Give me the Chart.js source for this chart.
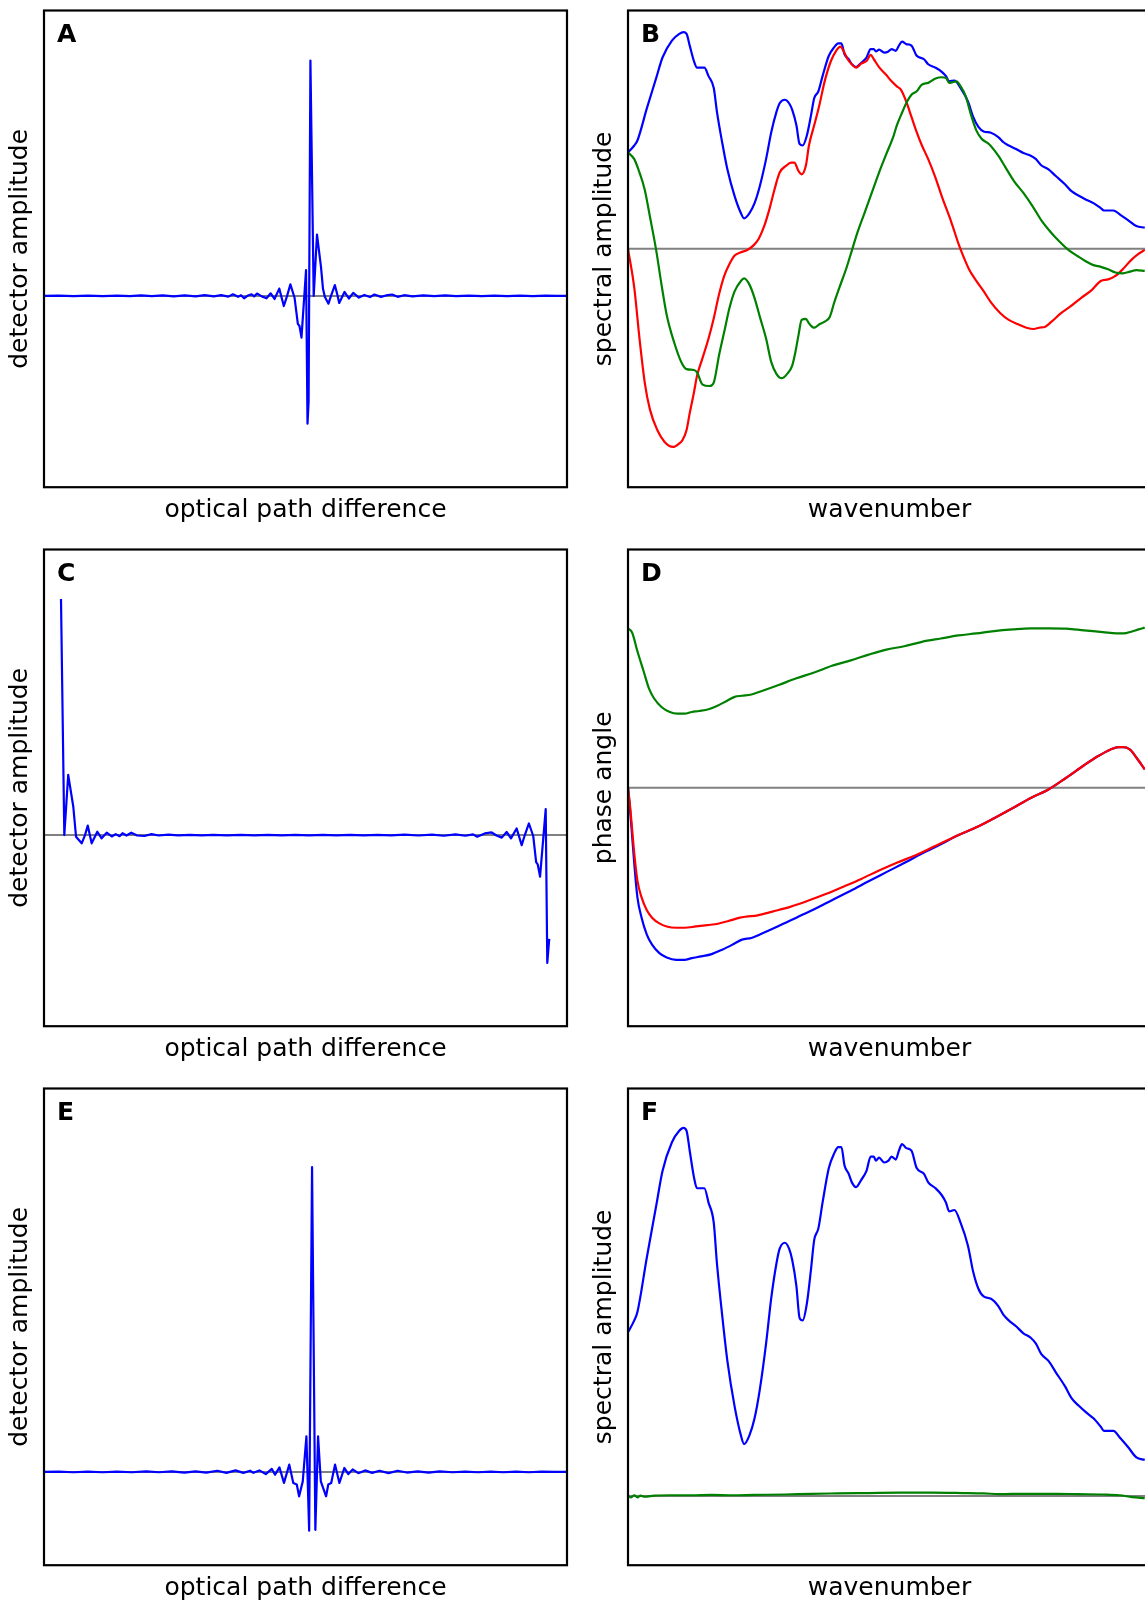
<!DOCTYPE html>
<html>
<head>
<meta charset="utf-8">
<script src="https://cdn.jsdelivr.net/npm/chart.js@4.4.0/dist/chart.umd.min.js"></script>
<style>
html,body{margin:0;padding:0;background:#fff;overflow:hidden;width:1145px;height:1600px}
#wrap{position:relative;width:1168px;height:1600px;overflow:hidden}
canvas{position:absolute}
</style>
</head>
<body>
<div id="wrap">
<canvas id="cA" width="584" height="539" style="left:0px;top:0px;width:584px;height:539px"></canvas>
<canvas id="cB" width="584" height="539" style="left:584px;top:0px;width:584px;height:539px"></canvas>
<canvas id="cC" width="584" height="539" style="left:0px;top:539px;width:584px;height:539px"></canvas>
<canvas id="cD" width="584" height="539" style="left:584px;top:539px;width:584px;height:539px"></canvas>
<canvas id="cE" width="584" height="539" style="left:0px;top:1078px;width:584px;height:539px"></canvas>
<canvas id="cF" width="584" height="539" style="left:584px;top:1078px;width:584px;height:539px"></canvas>
</div>
<script>
// ---------- Panel A: recorded interferogram (OPD in samples from ZPD) ----------
const opdA = [-146,-138,-130,-122,-114,-106,-99,-93,-87,-81,-75,-69,-63,-58,-53,-49,-45,-42.5,-39.7,-38.1,-36.4,-34.2,-32.3,-30.9,-29.3,-26.7,-24.1,-21.8,-19.7,-17.1,-14.6,-12.8,-11,-8.7,-6.9,-6,-4.9,-2.4,-1.6,-1,0,1.8,3.6,5.8,6.9,7.9,9.9,11.3,13.4,14.6,15.8,18.7,21.1,23.5,26.6,29.6,32.7,35.1,38.7,41.5,44.8,47.9,51.4,56,62,68,74,80,87,94,101,108,115,122,129,135,141];
const ampA = [0,0.001,-0.001,0.001,-0.001,0.001,-0.001,0.002,-0.001,0.002,-0.002,0.002,-0.002,0.003,-0.002,0.003,-0.003,0.007,-0.004,0.003,-0.010,0.002,0.007,-0.002,0.010,-0.002,-0.010,0.011,-0.013,0.031,-0.043,0.000,0.049,-0.008,-0.119,-0.128,-0.177,0.110,-0.543,-0.450,1.000,0.000,0.261,0.123,0.030,-0.004,-0.033,0.000,0.046,0.010,-0.030,0.017,-0.011,0.013,-0.007,0.004,-0.005,0.006,-0.004,0.002,0.006,-0.004,0.003,-0.002,0.002,-0.001,0.002,-0.001,0.001,-0.001,0.001,-0.001,0.001,-0.001,0.001,0,0];

// ---------- Panel C: interferogram in FFT order (sample index) ----------
const idxC = [0,1.7,3.7,6.3,7.7,10.6,12.3,13.7,15.7,18.6,20.8,23.4,26,28,30,31.5,33.5,36,39,42.7,46.4,50,55,60,66,72,78,85,92,99,106,113,120,127,134,141,148,155,162,169,176,183,190,196,202,207,211,213.1,217,220.5,223,225.7,228.2,230.4,233.3,235.9,237.5,239.6,241.8,243.3,244.1,245.3,248.2,249,250];
const ampC = [1.000,0.000,0.255,0.120,-0.007,-0.035,0.000,0.040,-0.035,0.014,-0.014,0.010,-0.006,0.004,-0.005,0.008,-0.002,0.010,-0.002,-0.004,0.004,-0.002,0.002,-0.001,0.001,-0.001,0.001,-0.001,0.001,-0.001,0.001,-0.001,0.001,-0.001,0.001,-0.001,0.001,-0.001,0.001,-0.001,0.002,-0.002,0.002,-0.003,0.003,-0.003,0.003,-0.007,0.007,0.011,-0.002,-0.011,0.013,-0.014,0.028,-0.043,0.000,0.049,-0.004,-0.115,-0.124,-0.176,0.110,-0.542,-0.440];

// ---------- Panel E: phase-corrected interferogram ----------
const opdE = [-147,-139,-131,-123,-115,-107,-99,-91,-84,-77,-70,-64,-58,-52,-47,-42,-37.7,-34,-32.2,-28.9,-25.4,-22.1,-20.3,-17.9,-15.4,-12.5,-10.3,-8.4,-7.1,-5.1,-3.1,-1.6,0,1.8,3.3,4.8,7.7,8.9,10.5,12.6,15,17.7,19.9,22.3,25.4,29.1,33,37,42,47,52,58,64,70,77,84,91,98,105,112,119,126,133,140];
const ampE = [0,0.001,-0.001,0.001,-0.001,0.001,-0.001,0.002,-0.001,0.002,-0.002,0.002,-0.002,0.004,-0.003,0.005,-0.003,0.004,-0.003,0.005,-0.007,0.010,-0.009,0.015,-0.036,0.024,-0.036,-0.041,-0.080,-0.031,0.117,-0.193,1.000,-0.190,0.117,-0.031,-0.080,-0.041,-0.036,0.024,-0.036,0.013,-0.007,0.008,-0.004,0.005,-0.003,0.004,-0.004,0.004,-0.002,0.002,-0.002,0.002,-0.001,0.001,-0.001,0.001,-0.001,0.001,-0.001,0.001,0,0];

// ---------- Panel B / F: spectrum (wavenumber bins) ----------
const kMag = [0,6,9,18,27,33,42,49,53,56,59,63,66,73,77,82,85,90,95,102,108,111,116,121,126,132,137,142,145,150,154,157,161,164,167,171,175,178,182,186,192,197,201,204,207,211,214,218,223,228,232,235,237,240,245,249,252,256,259,262,266,271,276,283,287,294,300,304,307,312,318,325,330,335,340,347,354,359,364,371,378,385,390,395,402,409,418,424,431,438,445,452,455,464,471,478,486,494];
const magnitude = [.445,.477,.500,.648,.789,.883,.961,.992,1.000,.992,.938,.867,.836,.836,.797,.742,.633,.492,.367,.242,.164,.141,.164,.211,.289,.414,.539,.633,.672,.688,.672,.641,.570,.484,.477,.523,.617,.695,.727,.797,.891,.930,.948,.948,.898,.875,.852,.839,.859,.883,.922,.922,.911,.919,.906,.911,.922,.914,.938,.956,.945,.938,.891,.875,.852,.836,.817,.797,.773,.777,.742,.680,.609,.563,.542,.536,.516,.492,.477,.461,.442,.430,.414,.386,.367,.336,.297,.266,.245,.227,.211,.188,.177,.177,.156,.133,.105,.098];
const kRe = [0,6,11,16,21,28,35,43,49,52,56,59,63,66,71,77,82,87,92,97,102,108,114,120,125,130,135,140,145,151,156,159,163,166,170,173,178,183,188,194,199,203,206,210,214,218,223,228,232,235,240,247,252,257,261,266,271,276,281,287,294,300,309,316,321,326,333,340,347,356,364,373,381,388,393,399,405,414,423,433,443,452,459,466,473,481,488,494];
const realPart = [0,-.180,-.414,-.617,-.742,-.836,-.891,-.914,-.898,-.883,-.836,-.758,-.664,-.586,-.508,-.414,-.320,-.211,-.125,-.070,-.031,-.016,-.005,.016,.047,.102,.180,.273,.352,.383,.398,.398,.359,.344,.383,.477,.570,.664,.773,.867,.914,.933,.914,.875,.852,.836,.855,.867,.895,.875,.839,.802,.773,.750,.734,.680,.609,.539,.477,.414,.328,.242,.125,.023,-.039,-.094,-.148,-.195,-.247,-.297,-.328,-.348,-.364,-.370,-.364,-.359,-.336,-.297,-.266,-.227,-.192,-.148,-.141,-.125,-.094,-.052,-.023,-.005];
const kIm = [0,6,11,16,21,27,32,37,44,51,56,63,66,71,78,82,87,92,97,102,108,111,116,121,126,132,137,142,147,152,157,160,163,166,170,173,178,183,188,193,197,202,209,214,219,226,233,240,247,254,257,261,266,271,276,281,287,294,300,304,307,311,314,318,323,328,333,338,345,354,361,369,378,387,395,404,412,421,430,438,445,452,459,466,473,480,486,494];
const imagPart = [.445,.414,.352,.273,.148,-.008,-.164,-.305,-.430,-.523,-.555,-.559,-.570,-.625,-.633,-.617,-.492,-.383,-.273,-.195,-.148,-.136,-.164,-.227,-.313,-.414,-.523,-.578,-.597,-.578,-.539,-.477,-.398,-.328,-.323,-.344,-.364,-.348,-.336,-.313,-.250,-.180,-.086,-.008,.070,.164,.258,.352,.438,.523,.570,.617,.672,.711,.727,.758,.766,.786,.792,.789,.766,.770,.773,.750,.703,.617,.547,.508,.484,.430,.375,.313,.258,.195,.133,.078,.036,-.005,-.034,-.058,-.075,-.083,-.094,-.109,-.113,-.105,-.098,-.102];

// ---------- Panel D: phase angle (rad) ----------
const kPhBlue = [0,2,4,6,9,13,18,23,30,37,46,54,61,70,80,90,101,109,118,126,144,161,178,195,213,230,247,264,281,299,316,333,350,368,385,402,419,436,450,461,469,474,480,486,494];
const phaseBlue = [0,-.303,-.677,-1.050,-1.517,-1.797,-2.031,-2.171,-2.288,-2.348,-2.381,-2.381,-2.358,-2.334,-2.302,-2.241,-2.162,-2.101,-2.078,-2.031,-1.914,-1.797,-1.681,-1.555,-1.424,-1.293,-1.167,-1.041,-.910,-.780,-.654,-.546,-.420,-.280,-.140,-.023,.140,.313,.444,.528,.565,.565,.528,.420,.257];
const kPhRed = [0,2,4,6,9,13,18,23,30,37,46,54,65,76,86,96,107,113,124,138,155,172,189,206,223,240,257,275,292,309,316,333,350,368,385,402,419,436,450,461,469,474,480,486,494];
const phaseRed = [0,-.257,-.584,-.910,-1.284,-1.517,-1.695,-1.797,-1.877,-1.919,-1.937,-1.937,-1.919,-1.900,-1.881,-1.844,-1.797,-1.783,-1.765,-1.713,-1.648,-1.564,-1.471,-1.368,-1.261,-1.144,-1.036,-.934,-.817,-.700,-.654,-.546,-.420,-.280,-.140,-.023,.140,.313,.444,.528,.565,.565,.528,.420,.257];
const kPhGreen = [0,4,9,15,20,25,32,40,47,54,61,68,77,85,94,102,109,118,126,144,161,178,195,213,230,247,264,281,299,316,333,350,368,385,402,419,436,454,467,474,481,488,494];
const phaseGreen = [2.208,2.148,1.891,1.611,1.377,1.237,1.120,1.050,1.027,1.027,1.050,1.064,1.088,1.134,1.200,1.260,1.275,1.293,1.331,1.424,1.517,1.597,1.690,1.765,1.844,1.914,1.961,2.022,2.068,2.110,2.138,2.171,2.194,2.208,2.208,2.204,2.180,2.157,2.138,2.138,2.162,2.194,2.218];

// ---------- Panel F: corrected spectrum, imaginary residue ----------
const kF = [0,3,6,9,12,16,25,40,60,80,100,120,150,175,200,230,260,290,320,340,355,380,410,430,455,470,482,494];
const imagCorrected = [0,-.004,.002,-.004,.001,-.002,.001,.002,.002,.003,.002,.003,.004,.006,.007,.008,.009,.009,.008,.007,.005,.006,.006,.005,.004,.002,-.003,-.006];

// ---------- text ----------
const letters = ['A','B','C','D','E','F'];
const xTitleTime = 'optical path difference';
const xTitleFreq = 'wavenumber';
const yTitles = ['detector amplitude','spectral amplitude','detector amplitude','phase angle','detector amplitude','spectral amplitude'];

const BLUE = '#0000ff', RED = '#ff0000', GREEN = '#008000', GRAY = '#808080';

function pts(xs, ys){ return xs.map((x,i)=>({x:x, y:ys[i]})); }

const framePlugin = {
  id: 'frame',
  afterDatasetsDraw(chart, args, opts){
    const {ctx, chartArea:{left,top,right,bottom}} = chart;
    ctx.save();
    ctx.strokeStyle = '#000';
    ctx.lineWidth = 2.2;
    ctx.strokeRect(left, top, right-left, bottom-top);
    ctx.fillStyle = '#000';
    ctx.font = 'bold 25px "DejaVu Sans"';
    ctx.textBaseline = 'alphabetic';
    ctx.textAlign = 'left';
    ctx.fillText(opts.letter, left + 13, top + 31);
    ctx.restore();
  }
};

function makeChart(id, cfg){
  const datasets = cfg.series.map(s => ({
    data: pts(s.x, s.y),
    borderColor: s.color,
    borderWidth: 2.2,
    pointRadius: 0,
    tension: cfg.smooth ? 0.4 : 0,
    cubicInterpolationMode: cfg.smooth ? 'monotone' : 'default',
    fill: false,
    borderJoinStyle: 'round',
    borderCapStyle: 'butt'
  }));
  datasets.push({
    data: pts([cfg.xmin, cfg.xmax], [0, 0]),
    borderColor: GRAY, borderWidth: 2, pointRadius: 0, tension: 0, fill: false
  });
  const titleFont = {family: 'DejaVu Sans', size: 25, weight: 'normal'};
  return new Chart(document.getElementById(id), {
    type: 'line',
    data: {datasets},
    options: {
      responsive: false,
      animation: false,
      devicePixelRatio: 1,
      events: [],
      layout: {padding: {top: 10.5, right: 17, bottom: 0, left: 0}},
      plugins: {legend: {display: false}, tooltip: {enabled: false}, frame: {letter: cfg.letter}},
      scales: {
        x: {
          type: 'linear', min: cfg.xmin, max: cfg.xmax,
          ticks: {display: false}, grid: {display: false}, border: {display: false},
          title: {display: true, text: cfg.xTitle, color: '#000', font: titleFont, padding: {top: 0, bottom: 13.1}},
          afterFit: s => { s.height = 51.8; }
        },
        y: {
          type: 'linear', min: cfg.ymin, max: cfg.ymax,
          ticks: {display: false}, grid: {display: false}, border: {display: false},
          title: {display: true, text: cfg.yTitle, color: '#000', font: titleFont, padding: {top: 5.5, bottom: 0}},
          afterFit: s => { s.width = 44; }
        }
      }
    },
    plugins: [framePlugin]
  });
}

makeChart('cA', {letter: letters[0], xTitle: xTitleTime, yTitle: yTitles[0], xmin: -146.2, xmax: 140.8, ymin: -0.813, ymax: 1.213,
  series: [{x: opdA, y: ampA, color: BLUE}]});
makeChart('cB', {letter: letters[1], xTitle: xTitleFreq, yTitle: yTitles[1], xmin: 0, xmax: 500, ymin: -1.1, ymax: 1.1, smooth: true,
  series: [{x: kIm, y: imagPart, color: GREEN}, {x: kRe, y: realPart, color: RED}, {x: kMag, y: magnitude, color: BLUE}]});
makeChart('cC', {letter: letters[2], xTitle: xTitleTime, yTitle: yTitles[2], xmin: -8.7, xmax: 259.1, ymin: -0.81, ymax: 1.21,
  series: [{x: idxC, y: ampC, color: BLUE}]});
makeChart('cD', {letter: letters[3], xTitle: xTitleFreq, yTitle: yTitles[3], xmin: 0, xmax: 500, ymin: -3.3, ymax: 3.3, smooth: true,
  series: [{x: kPhGreen, y: phaseGreen, color: GREEN}, {x: kPhRed, y: phaseRed, color: RED}, {x: kPhBlue, y: phaseBlue, color: BLUE}]});
makeChart('cE', {letter: letters[4], xTitle: xTitleTime, yTitle: yTitles[4], xmin: -147.1, xmax: 139.9, ymin: -0.306, ymax: 1.258,
  series: [{x: opdE, y: ampE, color: BLUE}]});
makeChart('cF', {letter: letters[5], xTitle: xTitleFreq, yTitle: yTitles[5], xmin: 0, xmax: 500, ymin: -0.188, ymax: 1.107, smooth: true,
  series: [{x: kF, y: imagCorrected, color: GREEN}, {x: kMag, y: magnitude, color: BLUE}]});
</script>
</body>
</html>
